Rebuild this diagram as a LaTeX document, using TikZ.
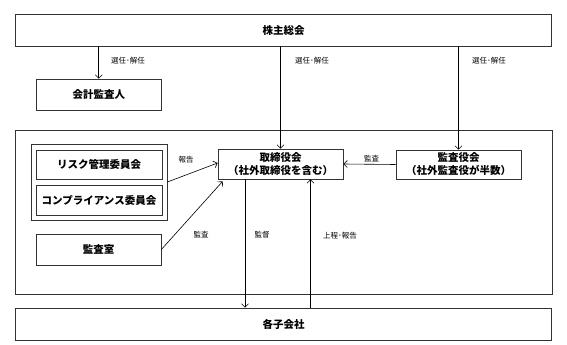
\documentclass[tikz,border=0pt]{standalone}
\usepackage{fontspec}
\newfontfamily\jp{Noto Sans CJK JP}
\usetikzlibrary{arrows.meta}
\begin{document}
\begin{tikzpicture}[x=1pt,y=-1pt,
 bx/.style={draw=black!80, line width=0.7pt, inner sep=0pt, align=center, font=\jp\bfseries\fontsize{10.5}{13}\selectfont},
 frame/.style={draw=black!80, line width=0.7pt, inner sep=0pt},
 lbl/.style={inner sep=0pt, font=\jp\fontsize{7.5}{9}\selectfont},
 arr/.style={line width=0.6pt, -{Straight Barb[length=3.5pt,width=7pt]}}]
\fill[white] (0,0) rectangle (567,345);
\useasboundingbox (0,0) rectangle (567,345);
% frames
\node[frame, minimum width=537pt, minimum height=164pt] (outer) at (283.5,212) {};
\node[frame, minimum width=136pt, minimum height=76pt] (group) at (99,182) {};
% boxes
\node[bx, minimum width=536pt, minimum height=31.5pt] (sh) at (283.5,30.25) {株主総会};
\node[bx, minimum width=124.5pt, minimum height=31pt] (kaikei) at (98.75,94.5) {会計監査人};
\node[bx, minimum width=126pt, minimum height=29pt] (risk) at (99,164.5) {リスク管理委員会};
\node[bx, minimum width=126pt, minimum height=30pt] (comp) at (99,200) {コンプライアンス委員会};
\node[bx, minimum width=125pt, minimum height=31pt] (ks) at (98.5,249.5) {監査室};
\node[bx, minimum width=125pt, minimum height=30pt] (tori) at (280.5,164) {取締役会\\（社外取締役を含む）};
\node[bx, minimum width=125pt, minimum height=29pt] (kyk) at (458.5,164.5) {監査役会\\（社外監査役が半数）};
\node[bx, minimum width=536pt, minimum height=32pt] (ko) at (283.5,324) {各子会社};
% labels
\node[lbl] (l1) at (128,61) {選任･解任};
\node[lbl] (l2) at (312,61) {選任･解任};
\node[lbl] (l3) at (489,61) {選任･解任};
\node[lbl] (l4) at (186,160) {報告};
\node[lbl] (l5) at (371.5,159) {監査};
\node[lbl] (l6) at (201,235) {監査};
\node[lbl] (l7) at (262,235) {監督};
\node[lbl] (l8) at (340,236) {上程･報告};
% arrows
\draw[arr] (sh.south -| kaikei.north) -- (kaikei.north);
\draw[arr] (sh.south -| tori.north) -- (tori.north);
\draw[arr] (sh.south -| kyk.north) -- (kyk.north);
\draw[arr] (group.east) -- ([yshift=1pt]tori.west);
\draw[arr] (ks.east) -- ([xshift=5pt,yshift=-2pt]tori.south west);
\draw[arr] (kyk.west) -- (tori.east);
\coordinate (dn) at ([xshift=-35.5pt]tori.south);
\coordinate (up) at ([xshift=30pt]tori.south);
\draw[arr] (dn) -- (dn |- ko.north);
\draw[arr] (up |- ko.north) -- (up);
\end{tikzpicture}
\end{document}
